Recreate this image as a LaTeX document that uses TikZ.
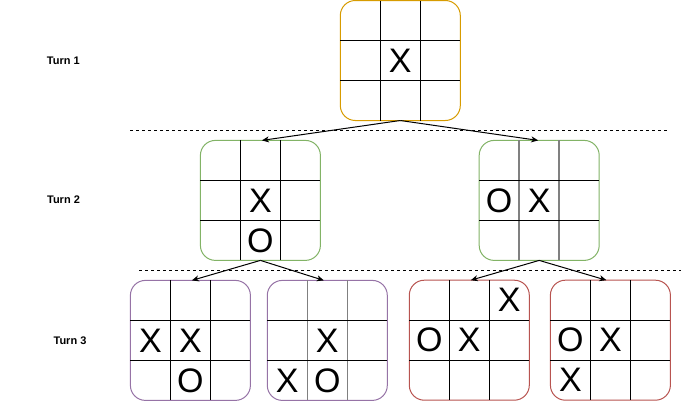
\documentclass[tikz,border=0pt]{standalone}
\usepackage{fontspec}
\newfontfamily\hv{Liberation Sans}
\usetikzlibrary{calc,arrows.meta}
\definecolor{orangeS}{HTML}{D79B00}
\definecolor{greenS}{HTML}{82B366}
\definecolor{purpleS}{HTML}{9673A6}
\definecolor{redS}{HTML}{B85450}
\definecolor{greyL}{HTML}{808080}
\tikzset{
  board/.style={draw, fill=white, line width=1pt, rounded corners=15pt,
    minimum width=120pt, minimum height=120pt, inner sep=0pt, outer sep=0pt},
  gridline/.style={line width=1pt, black},
  greygrid/.style={line width=1.6pt, greyL},
  cellmark/.style={font=\hv\fontsize{34}{36}\selectfont, inner sep=0pt},
  turnlabel/.style={font=\hv\bfseries\fontsize{11}{13}\selectfont, inner sep=0pt},
  sepline/.style={line width=1pt, dash pattern=on 3pt off 3pt},
  move/.style={line width=1pt, -{Stealth[length=7pt,width=6pt,inset=2pt]}},
}
% name, x, y, colour, vertical-line style
\newcommand{\mkboard}[5]{%
  \node[board, draw=#4] (#1) at (#2,#3) {};
  \draw[#5] ($(#1.north west)+(40,0)$) -- ($(#1.south west)+(40,0)$);
  \draw[#5] ($(#1.north west)+(80,0)$) -- ($(#1.south west)+(80,0)$);
  \draw[gridline] ($(#1.north west)+(0,40)$) -- ($(#1.north east)+(0,40)$);
  \draw[gridline] ($(#1.north west)+(0,80)$) -- ($(#1.north east)+(0,80)$);
}
% node name, board, col, row, text
\newcommand{\mkcell}[5]{%
  \node[cellmark] (#1) at ($(#2)+({(#3-1)*40},{(#4-1)*40})$) {#5};
}
\begin{document}
\begin{tikzpicture}[x=1pt,y=-1pt]
\useasboundingbox (0,0) rectangle (681,402);

% labels
\node[turnlabel] (t1) at (63.3,60.7) {Turn 1};
\node[turnlabel] (t2) at (63.5,200) {Turn 2};
\node[turnlabel] (t3) at (70,340.7) {Turn 3};

% separators
\coordinate (s1a) at (130,130.7);
\coordinate (s1b) at (668,130.7);
\coordinate (s2a) at (139,270.5);
\coordinate (s2b) at (681,270.5);
\draw[sepline] (s1a) -- (s1b);
\draw[sepline] (s2a) -- (s2b);

% boards
\mkboard{top}{400.3}{60.5}{orangeS}{gridline}
\mkboard{ca}{260.4}{200.4}{greenS}{gridline}
\mkboard{cb}{539.2}{200.4}{greenS}{greygrid}
\mkboard{ga}{190.4}{340.4}{purpleS}{gridline}
\mkboard{gb}{327.3}{340.4}{purpleS}{greygrid}
\mkboard{gc}{469.3}{340.2}{redS}{gridline}
\mkboard{gd}{610.4}{340.2}{redS}{gridline}

% marks
\mkcell{top11}{top}{1}{1}{X}
\mkcell{ca11}{ca}{1}{1}{X}
\mkcell{ca12}{ca}{1}{2}{O}
\mkcell{cb01}{cb}{0}{1}{O}
\mkcell{cb11}{cb}{1}{1}{X}
\mkcell{ga01}{ga}{0}{1}{X}
\mkcell{ga11}{ga}{1}{1}{X}
\mkcell{ga12}{ga}{1}{2}{O}
\mkcell{gb11}{gb}{1}{1}{X}
\mkcell{gb02}{gb}{0}{2}{X}
\mkcell{gb12}{gb}{1}{2}{O}
\mkcell{gc20}{gc}{2}{0}{X}
\mkcell{gc01}{gc}{0}{1}{O}
\mkcell{gc11}{gc}{1}{1}{X}
\mkcell{gd01}{gd}{0}{1}{O}
\mkcell{gd11}{gd}{1}{1}{X}
\mkcell{gd02}{gd}{0}{2}{X}

% moves
\draw[move] (top.south) -- ($(ca.north)+(1.5,0)$);
\draw[move] (top.south) -- ($(cb.north)+(-1,0)$);
\draw[move] (ca.south) -- ($(ga.north)+(1.5,0)$);
\draw[move] (ca.south) -- ($(gb.north)+(-3.5,0)$);
\draw[move] (cb.south) -- ($(gc.north)+(1.5,0)$);
\draw[move] (cb.south) -- ($(gd.north)+(-4,0)$);
\end{tikzpicture}
\end{document}
